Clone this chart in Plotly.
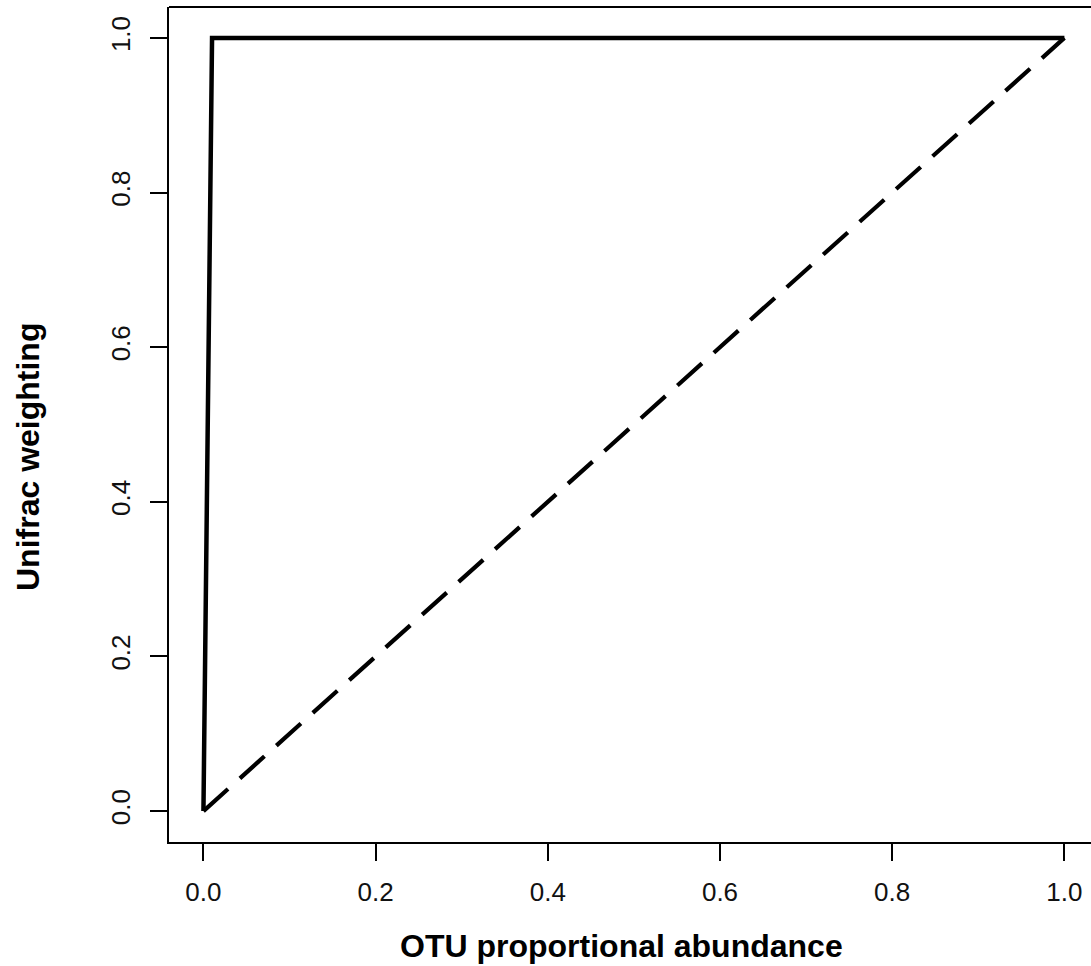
import plotly.graph_objects as go

# Weighting curves: presence/absence (solid) vs. proportional (dashed)
abundance_presence = [0.0, 0.01, 1.0]
weight_presence = [0.0, 1.0, 1.0]
abundance_proportional = [0.0, 1.0]
weight_proportional = [0.0, 1.0]

tick_vals = [0.0, 0.2, 0.4, 0.6, 0.8, 1.0]
tick_text = ["0.0", "0.2", "0.4", "0.6", "0.8", "1.0"]

x_title = "OTU proportional abundance"
y_title = "Unifrac weighting"

W, H = 1091, 966
L, R, T, B = 169, 0, 7, 124

fig = go.Figure()
fig.add_trace(go.Scatter(
    x=abundance_proportional, y=weight_proportional, mode="lines",
    line=dict(color="black", width=4.2, dash="33px,16px"),
    showlegend=False, hoverinfo="skip"))
fig.add_trace(go.Scatter(
    x=abundance_presence, y=weight_presence, mode="lines",
    line=dict(color="black", width=4.5),
    showlegend=False, hoverinfo="skip"))

axis_common = dict(
    showline=True, linecolor="black", linewidth=2, mirror=False,
    showgrid=False, zeroline=False,
    ticks="outside", ticklen=17, tickwidth=2, tickcolor="black",
    tickvals=tick_vals, ticktext=tick_text,
    tickfont=dict(family="Liberation Sans, Arial, sans-serif", size=26, color="#111111"),
)

fig.update_xaxes(range=[-0.04, 1.0309], ticklabelstandoff=9, **axis_common)
fig.update_yaxes(range=[-0.04, 1.04], tickangle=-90, ticklabelstandoff=10, **axis_common)

# top border of the plotting box
fig.add_shape(type="line", xref="paper", yref="paper", x0=0, x1=1, y0=1, y1=1,
              line=dict(color="black", width=2))

title_font = dict(family="Liberation Sans, Arial, sans-serif", size=32, color="black", weight="bold")
plot_w = W - L - R
plot_h = H - T - B
fig.add_annotation(text=x_title, xref="paper", yref="paper",
                   x=(621 - L) / plot_w, y=(H - B - 946) / plot_h,
                   xanchor="center", yanchor="middle", showarrow=False, font=title_font)
fig.add_annotation(text=y_title, xref="paper", yref="paper",
                   x=(28 - L) / plot_w, y=(H - B - 457) / plot_h, textangle=-90,
                   xanchor="center", yanchor="middle", showarrow=False, font=title_font)

fig.update_layout(
    width=W, height=H,
    margin=dict(l=L, r=R, t=T, b=B, pad=0),
    plot_bgcolor="white", paper_bgcolor="white",
)

fig.write_html("out.html")
